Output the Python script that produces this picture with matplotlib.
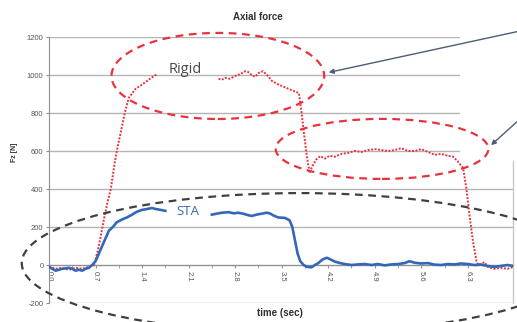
import matplotlib
matplotlib.use("Agg")
import matplotlib.pyplot as plt
from matplotlib.patches import Ellipse, Rectangle

plt.rcParams['font.family'] = ['Liberation Sans', 'DejaVu Sans']

# Rigid (red dotted) - two recorded segments
rigid_t1 = [0.00, 0.10, 0.20, 0.30, 0.40, 0.50, 0.60, 0.68, 0.75, 0.82, 0.88, 0.93,
            0.98, 1.02, 1.08, 1.14, 1.20, 1.30, 1.40, 1.50, 1.58, 1.63]
rigid_v1 = [-10, -20, -15, -25, -15, -20, -10, 0, 100, 230, 330, 400,
            520, 600, 700, 800, 880, 926, 950, 975, 995, 1005]

rigid_t2 = [2.55, 2.60, 2.65, 2.72, 2.80, 2.88, 2.95, 3.00, 3.05, 3.10, 3.15, 3.22,
            3.28, 3.35, 3.45, 3.55, 3.65, 3.76, 3.80, 3.84, 3.88, 3.92, 3.96,
            4.02, 4.08, 4.15, 4.22, 4.30, 4.40, 4.50, 4.60, 4.70, 4.80, 4.90,
            5.00, 5.10, 5.20, 5.30, 5.40, 5.50, 5.60, 5.70, 5.80, 5.90, 6.00,
            6.08, 6.15, 6.23, 6.28, 6.33, 6.38, 6.43, 6.46, 6.55, 6.60, 6.70,
            6.80, 6.90, 6.98]
rigid_v2 = [980, 975, 985, 980, 995, 1005, 1020, 1015, 1000, 990, 1010, 1020,
            1000, 970, 950, 935, 920, 905, 800, 680, 570, 484, 520,
            555, 573, 560, 575, 570, 585, 590, 600, 595, 605, 610,
            605, 600, 605, 615, 600, 600, 610, 595, 580, 585, 575,
            570, 545, 510, 400, 250, 120, 20, 0, 15, -10, -20,
            -15, -20, -10]

# STA (blue solid) - two recorded segments
sta_t1 = [0.00, 0.05, 0.10, 0.15, 0.20, 0.30, 0.35, 0.40, 0.45, 0.50, 0.55, 0.60,
          0.65, 0.70, 0.75, 0.80, 0.85, 0.90, 0.96, 1.02, 1.10, 1.17, 1.25, 1.32,
          1.40, 1.48, 1.55, 1.60, 1.68, 1.75]
sta_v1 = [-10, -20, -30, -25, -20, -15, -20, -30, -25, -30, -20, -15,
          0, 20, 60, 100, 140, 180, 200, 225, 240, 250, 265, 280,
          290, 295, 300, 295, 290, 285]

sta_t2 = [2.45, 2.52, 2.60, 2.70, 2.78, 2.85, 2.92, 3.00, 3.05, 3.12, 3.20, 3.27,
          3.32, 3.38, 3.45, 3.55, 3.62, 3.66, 3.70, 3.74, 3.78, 3.83, 3.88, 3.95,
          4.00, 4.05, 4.12, 4.18, 4.23, 4.30, 4.38, 4.45, 4.55, 4.65, 4.75, 4.85,
          4.95, 5.05, 5.15, 5.25, 5.35, 5.42, 5.50, 5.60, 5.70, 5.80, 5.90, 6.00,
          6.10, 6.20, 6.30, 6.40, 6.50, 6.60, 6.70, 6.80, 6.90, 6.98]
sta_v2 = [265, 270, 275, 278, 272, 275, 270, 262, 258, 265, 270, 275,
          272, 260, 250, 248, 235, 200, 130, 60, 20, 0, -10, -12,
          0, 10, 30, 38, 30, 18, 10, 5, 0, 3, 5, 0,
          5, -2, 3, 5, 10, 20, 12, 8, 10, 2, 0, 5,
          3, 8, 5, 0, 2, -5, -10, -5, 0, -5]

x_ticks = [0.0, 0.7, 1.4, 2.1, 2.8, 3.5, 4.2, 4.9, 5.6, 6.3]
y_ticks = [-200, 0, 200, 400, 600, 800, 1000, 1200]

red = '#e8323c'
blue = '#3467b8'
grid_c = '#b4b4b4'

fig = plt.figure(figsize=(5.17, 3.22), dpi=100)
ax = fig.add_axes([49 / 517, 19 / 322, 464 / 517, 266 / 322])
ax.set_xlim(0, 6.98)
ax.set_ylim(-200, 1200)

# gridlines, axis lines
ax.set_yticks(y_ticks)
ax.set_yticklabels([str(v) for v in y_ticks], fontsize=5.5, color='#555555')
ax.yaxis.grid(True, color=grid_c, lw=1.0)
ax.set_axisbelow(True)
ax.tick_params(axis='y', length=2, color='#909090', pad=2)

ax.spines['top'].set_visible(False)
ax.spines['right'].set_visible(False)
ax.spines['left'].set_color('#909090')
ax.spines['bottom'].set_position(('data', 0))
ax.spines['bottom'].set_color('#909090')

ax.set_xticks(x_ticks)
ax.set_xticklabels([f"{v:.1f}" for v in x_ticks], rotation=270, fontsize=5.5,
                   color='#555555')
ax.set_xticks([t + 0.35 for t in x_ticks], minor=True)
ax.tick_params(axis='x', which='both', length=2, color='#909090', pad=2)

# white patch over top-right corner (as in the source picture)
ax.add_patch(Rectangle((6.19, 547), 2.0, 900, facecolor='white', edgecolor='none',
                       zorder=1.5, clip_on=False))
ax.plot([6.98, 6.98], [-200, 547], color='#c8c8c8', lw=1.0, zorder=1.6, clip_on=False)

# data
ax.plot(rigid_t1, rigid_v1, color=red, lw=1.4, ls=(0, (1, 0.8)), zorder=3)
ax.plot(rigid_t2, rigid_v2, color=red, lw=1.4, ls=(0, (1, 0.8)), zorder=3)
ax.plot(sta_t1, sta_v1, color=blue, lw=1.9, zorder=3)
ax.plot(sta_t2, sta_v2, color=blue, lw=1.9, zorder=3)

ax.text(2.05, 1030, 'Rigid', fontsize=10.5, color='#4a4a4a', ha='center', va='center',
        family=['Open Sans', 'DejaVu Sans'])
ax.text(2.09, 284, 'STA', fontsize=9.5, color=blue, ha='center', va='center',
        family=['Open Sans', 'DejaVu Sans'])

# annotation ellipses
ax.add_patch(Ellipse((2.54, 995), 3.2, 453, fill=False, edgecolor=red, lw=1.6,
                     ls=(0, (3.5, 2.5)), zorder=4, clip_on=False))
ax.add_patch(Ellipse((5.01, 611), 3.2, 316, fill=False, edgecolor=red, lw=1.6,
                     ls=(0, (3.5, 2.5)), zorder=4, clip_on=False))
ax.add_patch(Ellipse((3.77, 10), 8.36, 737, fill=False, edgecolor='#404040', lw=1.6,
                     ls=(0, (3.5, 2.5)), zorder=4, clip_on=False))

# arrows
arrow_c = '#4d5d74'
ax.annotate('', xy=(326, 322 - 73), xycoords='figure pixels',
            xytext=(520, 322 - 31), textcoords='figure pixels',
            arrowprops=dict(arrowstyle='-|>', color=arrow_c, lw=1.0,
                            mutation_scale=7), zorder=5)
ax.annotate('', xy=(489, 322 - 147), xycoords='figure pixels',
            xytext=(520, 322 - 119), textcoords='figure pixels',
            arrowprops=dict(arrowstyle='-|>', color=arrow_c, lw=1.0,
                            mutation_scale=7), zorder=5)

fig.text(258 / 517, 1 - 17 / 322, 'Axial force', fontsize=7, fontweight='bold',
         ha='center', va='center', color='#303030')
fig.text(280 / 517, 1 - 313 / 322, 'time (sec)', fontsize=7, fontweight='bold',
         ha='center', va='center', color='#303030')
fig.text(14 / 517, 1 - 152 / 322, 'Fz [N]', fontsize=5, fontweight='bold',
         rotation=90, ha='center', va='center', color='#303030')

fig.savefig('out.png', dpi=100)
